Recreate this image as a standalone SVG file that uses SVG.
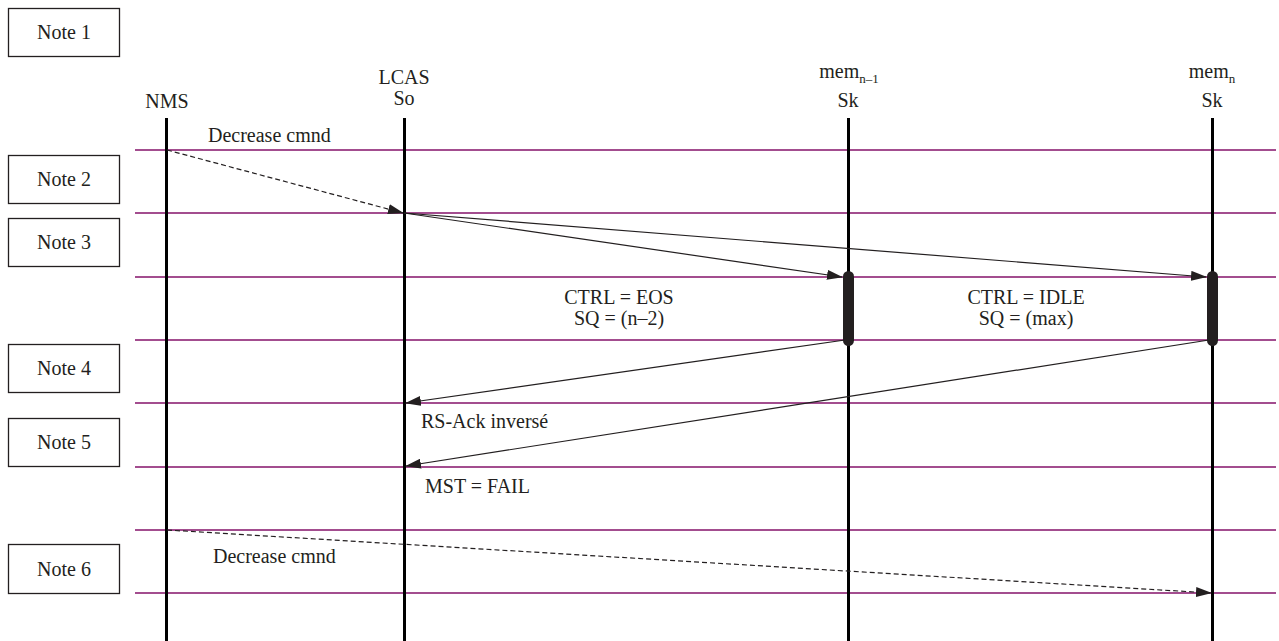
<svg xmlns="http://www.w3.org/2000/svg" width="1279" height="641" viewBox="0 0 1279 641">
<defs>
<style>
text{font-family:"Liberation Serif","Times New Roman",serif;font-size:20px;fill:#231f20}
.note{fill:#fff;stroke:#231f20;stroke-width:1.3}
.mid{text-anchor:middle}
.grid{stroke:#a34d8f;stroke-width:2}
.life{stroke:#000;stroke-width:3}
.msg{stroke:#231f20;stroke-width:1.2;fill:none;marker-end:url(#ah)}
.dash{stroke-dasharray:5,3}
.act{fill:#231f20}
</style>
<marker id="ah" markerWidth="16" markerHeight="10" refX="15" refY="5" orient="auto" markerUnits="userSpaceOnUse">
<path d="M0,0 L16,5 L0,10 Z" fill="#231f20"/>
</marker>
</defs>
<rect width="1279" height="641" fill="#fff"/>
<g id="grid">
<line class="grid" x1="135" y1="150" x2="1276" y2="150"/>
<line class="grid" x1="135" y1="213" x2="1276" y2="213"/>
<line class="grid" x1="135" y1="277" x2="1276" y2="277"/>
<line class="grid" x1="135" y1="340" x2="1276" y2="340"/>
<line class="grid" x1="135" y1="403" x2="1276" y2="403"/>
<line class="grid" x1="135" y1="467" x2="1276" y2="467"/>
<line class="grid" x1="135" y1="530" x2="1276" y2="530"/>
<line class="grid" x1="135" y1="593" x2="1276" y2="593"/>
</g>
<g id="note1"><rect class="note" x="8.5" y="8.5" width="111" height="48"/><text class="mid" x="64" y="39">Note 1</text></g>
<g id="note2"><rect class="note" x="8.5" y="155.5" width="111" height="48"/><text class="mid" x="64" y="186">Note 2</text></g>
<g id="note3"><rect class="note" x="8.5" y="218.5" width="111" height="48"/><text class="mid" x="64" y="249">Note 3</text></g>
<g id="note4"><rect class="note" x="8.5" y="344.5" width="111" height="48"/><text class="mid" x="64" y="375">Note 4</text></g>
<g id="note5"><rect class="note" x="8.5" y="418.5" width="111" height="48"/><text class="mid" x="64" y="449">Note 5</text></g>
<g id="note6"><rect class="note" x="8.5" y="544.5" width="111" height="49"/><text class="mid" x="64" y="576">Note 6</text></g>
<g id="nms"><text class="mid" x="167" y="108">NMS</text><line class="life" x1="166.5" y1="118" x2="166.5" y2="641"/></g>
<g id="lcas"><text class="mid" x="404" y="84">LCAS</text><text class="mid" x="404" y="105">So</text><line class="life" x1="404.5" y1="118" x2="404.5" y2="641"/></g>
<g id="memn1"><text class="mid" x="849" y="78">mem<tspan font-size="13" dy="5">n–1</tspan></text><text class="mid" x="848" y="107">Sk</text><line class="life" x1="848.5" y1="118" x2="848.5" y2="641"/><rect class="act" x="843" y="271" width="11" height="75" rx="5.5"/></g>
<g id="memn"><text class="mid" x="1212" y="78">mem<tspan font-size="13" dy="5">n</tspan></text><text class="mid" x="1212" y="107">Sk</text><line class="life" x1="1212.5" y1="118" x2="1212.5" y2="641"/><rect class="act" x="1207" y="271" width="11" height="75" rx="5.5"/></g>
<g id="connectors">
<line class="msg dash" x1="167" y1="150" x2="403" y2="213"/>
<line class="msg" x1="404" y1="213" x2="842" y2="277"/>
<line class="msg" x1="404" y1="213" x2="1206" y2="277"/>
<line class="msg" x1="845" y1="340" x2="406" y2="403"/>
<line class="msg" x1="1209" y1="340" x2="406" y2="466"/>
<line class="msg dash" x1="167" y1="530" x2="1211" y2="593"/>
</g>
<g id="labels">
<text x="208" y="142">Decrease cmnd</text>
<text class="mid" x="619" y="304">CTRL = EOS</text>
<text class="mid" x="619" y="325">SQ = (n–2)</text>
<text class="mid" x="1026" y="304">CTRL = IDLE</text>
<text class="mid" x="1026" y="325">SQ = (max)</text>
<text x="421" y="428">RS-Ack inversé</text>
<text x="425" y="493">MST = FAIL</text>
<text x="213" y="563">Decrease cmnd</text>
</g>
</svg>
